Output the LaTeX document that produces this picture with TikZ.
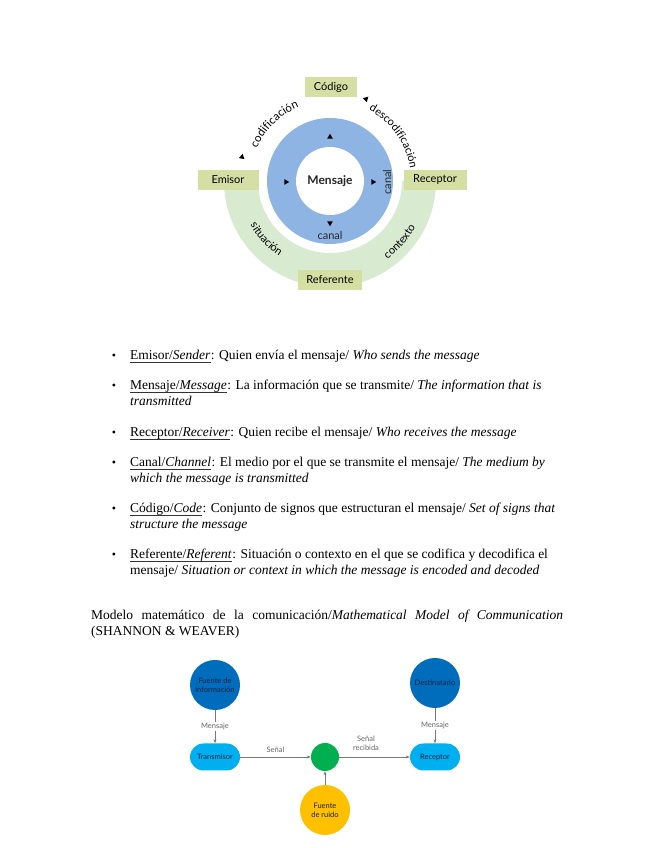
\documentclass[tikz,border=0pt]{standalone}
\usepackage{fontspec}
\setmainfont{Liberation Serif}
\newfontfamily\diag{Lato}
\usetikzlibrary{shapes.geometric,decorations.text,arrows.meta}
\definecolor{ringblue}{RGB}{141,180,226}
\definecolor{bandgreen}{RGB}{216,234,208}
\definecolor{boxolive}{RGB}{214,223,163}
\definecolor{darkblue}{RGB}{0,108,188}
\definecolor{lightblue}{RGB}{0,175,239}
\definecolor{mixgreen}{RGB}{0,176,80}
\definecolor{noiseyellow}{RGB}{255,192,0}
\definecolor{txtdark}{RGB}{25,30,60}
\definecolor{linegray}{RGB}{120,120,120}
\begin{document}
\begin{tikzpicture}[x=1pt,y=1pt,
  olivebox/.style={fill=boxolive, minimum height=20pt, inner sep=0pt, font=\diag\fontsize{11}{11}\selectfont},
  tri/.style={regular polygon, regular polygon sides=3, fill=black, inner sep=0pt, minimum size=6.5pt},
  item/.style={anchor=base west, inner sep=0pt, font=\fontsize{13.5}{16}\selectfont},
  uline/.style={draw=black!80, line width=0.6pt},
  bul/.style={anchor=base, inner sep=0pt, font=\fontsize{12}{16}\selectfont},
  bigc/.style={circle, minimum size=50pt, inner sep=0pt, align=center, text=txtdark, font=\diag\fontsize{7.5}{9}\selectfont},
  pill/.style={rounded corners=13.5pt, minimum width=50pt, minimum height=27pt, inner sep=0pt, fill=lightblue, text=txtdark, font=\diag\fontsize{7.5}{9}\selectfont},
  conn/.style={draw=linegray, line width=0.5pt, -{Stealth[length=4pt,width=3pt]}},
  clab/.style={inner sep=1pt, align=center, text=black!60, font=\diag\fontsize{7.5}{9}\selectfont}
]
\useasboundingbox (0,0) rectangle (655,848);
% ---------- top diagram ----------
\coordinate (C) at (330,667);
\fill[bandgreen] ([shift={(180:106pt)}]C) arc[start angle=180, end angle=360, radius=106pt]
  -- ([shift={(0:72pt)}]C) arc[start angle=0, end angle=-180, radius=72pt] -- cycle;
\fill[ringblue] (C) circle[radius=63pt];
\fill[white] (C) circle[radius=34pt];
\node[olivebox, minimum width=52pt] (codigo) at (331,761) {Código};
\node[olivebox, minimum width=61pt] (emisor) at (228,668) {Emisor};
\node[olivebox, minimum width=63pt] (receptor) at (435,668) {Receptor};
\node[olivebox, minimum width=64pt] (referente) at (330,568) {Referente};
\node[font=\diag\bfseries\fontsize{12}{12}\selectfont, text=black!85] (mensaje) at (C) {Mensaje};
\path[decorate, decoration={text along path, text align=center, text={|\diag\fontsize{11.5}{11.5}\selectfont|codificación}}]
  ([shift={(178:80pt)}]C) arc[start angle=178, end angle=91, radius=80pt];
\path[decorate, decoration={text along path, text align=center, text={|\diag\fontsize{11}{11}\selectfont|descodificación}}]
  ([shift={(80:81pt)}]C) arc[start angle=80, end angle=-10, radius=81pt];
\path[decorate, decoration={text along path, text align=center, text={|\diag\fontsize{11}{11}\selectfont|situación}}]
  ([shift={(190:91pt)}]C) arc[start angle=190, end angle=255, radius=91pt];
\path[decorate, decoration={text along path, text align=center, text={|\diag\fontsize{11}{11}\selectfont|contexto}}]
  ([shift={(287:97pt)}]C) arc[start angle=287, end angle=351, radius=97pt];
\node[tri] (t1) at (330,711) {};
\node[tri, rotate=-90] (t2) at (286,666) {};
\node[tri, rotate=-90] (t3) at (373,666) {};
\node[tri, rotate=180] (t4) at (330,625) {};
\node[tri, rotate=110] (t5) at (242,691) {};
\node[tri, rotate=195] (t6) at (366,749) {};
\node[font=\diag\fontsize{11}{11}\selectfont, text=black!85] (canal1) at (330,612) {canal};
\node[font=\diag\fontsize{11}{11}\selectfont, text=black!85, rotate=90] (canal2) at (387,666) {canal};
% ---------- bullet list ----------
\node[bul] (b1) at (114,488) {\textbullet};
\node[item] (u1) at (130,488) {Emisor/\textit{Sender}};
\node[item] (i1) at (u1.base east) {: Quien envía el mensaje/ \textit{Who sends the message}};
\draw[uline] ([yshift=-2pt]u1.base west) -- ([yshift=-2pt]u1.base east);
\node[bul] (b2) at (114,458) {\textbullet};
\node[item] (u2) at (130,458) {Mensaje/\textit{Message}};
\node[item] (i2a) at (u2.base east) {: La información que se transmite/ \textit{The information that is}};
\draw[uline] ([yshift=-2pt]u2.base west) -- ([yshift=-2pt]u2.base east);
\node[item] (i2b) at (130,442) {\textit{transmitted}};
\node[bul] (b3) at (114,411) {\textbullet};
\node[item] (u3) at (130,411) {Receptor/\textit{Receiver}};
\node[item] (i3) at (u3.base east) {: Quien recibe el mensaje/ \textit{Who receives the message}};
\draw[uline] ([yshift=-2pt]u3.base west) -- ([yshift=-2pt]u3.base east);
\node[bul] (b4) at (114,381) {\textbullet};
\node[item] (u4) at (130,381) {Canal/\textit{Channel}};
\node[item] (i4a) at (u4.base east) {: El medio por el que se transmite el mensaje/ \textit{The medium by}};
\draw[uline] ([yshift=-2pt]u4.base west) -- ([yshift=-2pt]u4.base east);
\node[item] (i4b) at (130,365) {\textit{which the message is transmitted}};
\node[bul] (b5) at (114,335) {\textbullet};
\node[item] (u5) at (130,335) {Código/\textit{Code}};
\node[item] (i5a) at (u5.base east) {: Conjunto de signos que estructuran el mensaje/ \textit{Set of signs that}};
\draw[uline] ([yshift=-2pt]u5.base west) -- ([yshift=-2pt]u5.base east);
\node[item] (i5b) at (130,319) {\textit{structure the message}};
\node[bul] (b6) at (114,289) {\textbullet};
\node[item] (u6) at (130,289) {Referente/\textit{Referent}};
\node[item] (i6a) at (u6.base east) {: Situación o contexto en el que se codifica y decodifica el};
\draw[uline] ([yshift=-2pt]u6.base west) -- ([yshift=-2pt]u6.base east);
\node[item] (i6b) at (130,273) {mensaje/ \textit{Situation or context in which the message is encoded and decoded}};
% ---------- heading ----------
\node[anchor=base west, inner sep=0pt, text width=472pt, align=justify, font=\fontsize{13.5}{16}\selectfont] (head) at (91,228)
  {Modelo matemático de la comunicación/\textit{Mathematical Model of Communication}\linebreak (SHANNON \& WEAVER)};
% ---------- Shannon-Weaver diagram ----------
\node[bigc, fill=darkblue] (finfo) at (215,163) {Fuente de\\información};
\node[bigc, fill=darkblue] (dest) at (435,165) {Destinatario};
\node[pill] (trans) at (215,91) {Transmisor};
\node[pill] (recep) at (435,91) {Receptor};
\node[circle, fill=mixgreen, minimum size=28pt, inner sep=0pt] (mix) at (325,91) {};
\node[bigc, fill=noiseyellow] (ruido) at (325,38) {Fuente\\de ruido};
\draw[conn] (finfo) -- node[clab, fill=white] {Mensaje} (trans);
\draw[conn] (dest) -- node[clab, fill=white] {Mensaje} (recep);
\draw[conn] (trans) -- node[clab, above=3pt] {Señal} (mix);
\draw[conn] (mix) -- node[clab, above=5pt, pos=0.38] {Señal\\recibida} (recep);
\draw[conn] (ruido) -- (mix);
\end{tikzpicture}
\end{document}
